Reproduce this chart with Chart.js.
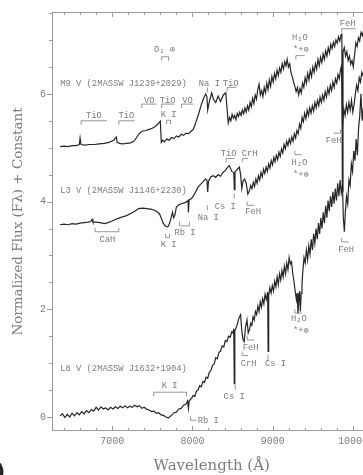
<!DOCTYPE html>
<html>
<head>
<meta charset="utf-8">
<script src="https://cdn.jsdelivr.net/npm/chart.js@4.4.1/dist/chart.umd.min.js"></script>
<style>
  html, body { margin: 0; padding: 0; background: #fff; overflow: hidden; }
  #wrap { position: relative; width: 373px; height: 475px; }
  #tag { position: absolute; left: -4px; top: 459px; font: bold 20px "DejaVu Sans", sans-serif; color: #222; }
</style>
</head>
<body>
<div id="wrap">
  <canvas id="spectra" width="373" height="475"></canvas>
  <span id="tag">)</span>
</div>
<script>
// M9 V (2MASSW J1239+2029)
const m9Wave = [
  6350, 6400, 6450, 6500, 6550, 6590, 6600, 6612, 6660, 6720,
  6780, 6840, 6900, 6960, 7020, 7050, 7062, 7090, 7130, 7180,
  7230, 7270, 7300, 7340, 7380, 7420, 7460, 7500, 7540, 7575,
  7600, 7612, 7630, 7650, 7680, 7710, 7740, 7770, 7800, 7830,
  7860, 7890, 7920, 7950, 7980, 8010, 8040, 8080, 8110, 8140,
  8165, 8180, 8190, 8210, 8240, 8262, 8290, 8320, 8350, 8385,
  8415, 8430, 8446, 8462, 8478, 8494, 8510, 8526, 8542, 8558,
  8574, 8590, 8606, 8622, 8638, 8654, 8670, 8686, 8702, 8718,
  8734, 8750, 8766, 8782, 8798, 8814, 8830, 8846, 8862, 8878,
  8894, 8910, 8926, 8942, 8958, 8974, 8990, 9006, 9022, 9038,
  9054, 9070, 9086, 9102, 9118, 9134, 9150, 9166, 9180, 9196,
  9212, 9228, 9244, 9260, 9276, 9292, 9308, 9324, 9340, 9356,
  9372, 9388, 9404, 9420, 9436, 9452, 9468, 9484, 9500, 9516,
  9532, 9548, 9564, 9580, 9596, 9612, 9628, 9644, 9660, 9676,
  9692, 9708, 9724, 9740, 9756, 9772, 9788, 9804, 9820, 9836,
  9852, 9862, 9868, 9876, 9892, 9908, 9924, 9940, 9956, 9972,
  9988, 10004, 10020, 10036, 10052, 10068, 10084, 10100, 10116, 10132
];
const m9Flux = [
  5.02, 5.03, 5.02, 5.04, 5.04, 5.06, 5.18, 5.06, 5.05, 5.06,
  5.06, 5.07, 5.08, 5.10, 5.14, 5.20, 5.10, 5.08, 5.07, 5.08,
  5.09, 5.12, 5.18, 5.27, 5.31, 5.32, 5.34, 5.36, 5.40, 5.45,
  5.49, 5.10, 5.14, 5.11, 5.16, 5.14, 5.19, 5.17, 5.22, 5.20,
  5.25, 5.23, 5.27, 5.26, 5.30, 5.34, 5.46, 5.64, 5.80, 5.92,
  6.00, 5.95, 5.70, 5.85, 6.02, 5.90, 5.84, 5.96, 5.86, 5.98,
  6.02, 5.75, 5.46, 5.56, 5.50, 5.62, 5.55, 5.60, 5.52, 5.64,
  5.58, 5.66, 5.60, 5.70, 5.63, 5.74, 5.66, 5.78, 5.70, 5.84,
  5.76, 5.92, 5.82, 5.98, 5.90, 6.08, 6.18, 5.98, 6.06, 5.95,
  6.12, 6.02, 6.20, 6.08, 6.26, 6.14, 6.32, 6.22, 6.38, 6.28,
  6.44, 6.34, 6.48, 6.40, 6.56, 6.46, 6.60, 6.52, 6.64, 6.50,
  6.56, 6.40, 6.32, 6.22, 6.14, 6.04, 6.12, 5.98, 6.10, 6.02,
  6.20, 6.12, 6.30, 6.20, 6.38, 6.26, 6.44, 6.32, 6.50, 6.40,
  6.56, 6.46, 6.64, 6.52, 6.68, 6.58, 6.74, 6.64, 6.80, 6.70,
  6.86, 6.76, 6.92, 6.84, 6.96, 6.88, 7.00, 6.94, 7.06, 6.98,
  7.10, 7.12, 4.20, 6.78, 6.86, 6.70, 6.78, 6.62, 6.70, 6.55,
  6.62, 6.50, 6.72, 6.95, 6.88, 7.04, 6.98, 7.14, 7.08, 7.18
];

// L3 V (2MASSW J1146+2230)
const l3Wave = [
  6350, 6400, 6450, 6500, 6550, 6600, 6650, 6700, 6735, 6749,
  6760, 6800, 6850, 6900, 6950, 7000, 7060, 7120, 7180, 7230,
  7280, 7330, 7380, 7430, 7480, 7530, 7560, 7590, 7615, 7635,
  7660, 7680, 7700, 7720, 7740, 7752, 7765, 7780, 7800, 7830,
  7860, 7890, 7920, 7945, 7950, 7958, 7985, 8010, 8040, 8070,
  8100, 8130, 8160, 8180, 8190, 8200, 8230, 8260, 8290, 8320,
  8350, 8380, 8410, 8440, 8460, 8490, 8515, 8522, 8530, 8560,
  8585, 8600, 8615, 8630, 8650, 8670, 8690, 8710, 8726, 8742,
  8758, 8774, 8790, 8806, 8822, 8838, 8854, 8870, 8886, 8902,
  8918, 8934, 8950, 8966, 8982, 8998, 9014, 9030, 9046, 9062,
  9078, 9094, 9110, 9126, 9142, 9158, 9174, 9190, 9206, 9222,
  9238, 9254, 9270, 9286, 9302, 9318, 9334, 9350, 9366, 9382,
  9398, 9414, 9430, 9446, 9462, 9478, 9494, 9510, 9526, 9542,
  9558, 9574, 9590, 9606, 9622, 9638, 9654, 9670, 9686, 9702,
  9718, 9734, 9750, 9766, 9782, 9798, 9814, 9830, 9846, 9858,
  9870, 9886, 9902, 9918, 9934, 9950, 9966, 9982, 9998, 10014,
  10030, 10046, 10062, 10078, 10094, 10110, 10126, 10142
];
const l3Flux = [
  3.57, 3.58, 3.57, 3.59, 3.58, 3.60, 3.61, 3.62, 3.63, 3.67,
  3.62, 3.62, 3.61, 3.59, 3.61, 3.64, 3.68, 3.71, 3.74, 3.78,
  3.82, 3.87, 3.88, 3.87, 3.86, 3.84, 3.81, 3.77, 3.68, 3.60,
  3.55, 3.53, 3.54, 3.62, 3.74, 3.80, 3.70, 3.74, 3.90, 3.94,
  3.96, 3.97, 3.99, 4.02, 3.80, 4.03, 4.05, 4.10, 4.18, 4.27,
  4.32, 4.36, 4.42, 4.40, 4.18, 4.38, 4.46, 4.48, 4.45, 4.50,
  4.47, 4.54, 4.58, 4.64, 4.67, 4.56, 4.54, 4.22, 4.55, 4.60,
  4.64, 4.50, 4.24, 4.38, 4.42, 4.34, 4.14, 4.20, 4.30, 4.24,
  4.36, 4.28, 4.42, 4.34, 4.48, 4.40, 4.54, 4.46, 4.60, 4.52,
  4.64, 4.56, 4.70, 4.62, 4.76, 4.68, 4.82, 4.74, 4.86, 4.78,
  4.92, 4.84, 4.98, 4.90, 5.06, 4.98, 5.12, 5.04, 5.16, 5.08,
  5.20, 5.12, 5.26, 5.18, 5.32, 5.26, 5.44, 5.36, 5.56, 5.48,
  5.64, 5.54, 5.70, 5.60, 5.74, 5.64, 5.78, 5.68, 5.84, 5.74,
  5.88, 5.78, 5.94, 5.84, 5.98, 5.88, 6.04, 5.94, 6.10, 6.00,
  6.16, 6.06, 6.22, 6.12, 6.28, 6.20, 6.36, 6.28, 6.46, 6.52,
  5.40, 5.72, 5.60, 5.80, 5.66, 5.84, 5.70, 5.88, 5.66, 5.80,
  6.00, 6.16, 6.06, 6.30, 6.22, 6.40, 6.34, 6.46
];

// L8 V (2MASSW J1632+1904)
const l8Wave = [
  6350, 6380, 6410, 6440, 6470, 6500, 6530, 6560, 6590, 6620,
  6650, 6680, 6710, 6740, 6770, 6800, 6830, 6860, 6890, 6920,
  6950, 6980, 7010, 7040, 7070, 7100, 7130, 7160, 7190, 7220,
  7250, 7280, 7310, 7340, 7370, 7400, 7430, 7460, 7490, 7520,
  7550, 7580, 7610, 7640, 7670, 7700, 7720, 7745, 7770, 7800,
  7830, 7860, 7890, 7920, 7940, 7950, 7960, 7990, 8010, 8030,
  8050, 8070, 8090, 8110, 8130, 8150, 8170, 8190, 8210, 8230,
  8250, 8270, 8290, 8310, 8330, 8350, 8370, 8390, 8410, 8430,
  8450, 8470, 8490, 8505, 8515, 8521, 8528, 8555, 8580, 8600,
  8615, 8630, 8645, 8660, 8680, 8695, 8710, 8725, 8740, 8755,
  8770, 8785, 8800, 8815, 8830, 8845, 8860, 8875, 8890, 8905,
  8920, 8937, 8943, 8950, 8965, 8980, 8995, 9010, 9025, 9040,
  9055, 9070, 9085, 9100, 9115, 9130, 9145, 9160, 9175, 9190,
  9205, 9220, 9235, 9250, 9265, 9280, 9295, 9305, 9315, 9325,
  9335, 9345, 9355, 9365, 9375, 9390, 9405, 9420, 9435, 9450,
  9465, 9480, 9495, 9510, 9525, 9540, 9555, 9570, 9585, 9600,
  9615, 9630, 9645, 9660, 9675, 9690, 9705, 9720, 9735, 9750,
  9765, 9780, 9795, 9810, 9825, 9840, 9855, 9870, 9880, 9893,
  9905, 9920, 9935, 9950, 9965, 9980, 9995, 10010, 10025, 10040,
  10055, 10070, 10085, 10100, 10115, 10130
];
const l8Flux = [
  0.02, 0.06, -0.01, 0.05, 0.00, 0.07, 0.02, 0.08, 0.04, 0.10,
  0.06, 0.12, 0.08, 0.14, 0.11, 0.18, 0.13, 0.19, 0.15, 0.17,
  0.13, 0.18, 0.15, 0.19, 0.16, 0.20, 0.17, 0.21, 0.17, 0.20,
  0.18, 0.22, 0.19, 0.21, 0.16, 0.18, 0.14, 0.13, 0.10, 0.11,
  0.07, 0.08, 0.04, 0.03, 0.00, -0.02, 0.01, 0.04, 0.08, 0.09,
  0.15, 0.16, 0.22, 0.24, 0.30, 0.16, 0.30, 0.35, 0.40, 0.38,
  0.48, 0.50, 0.58, 0.56, 0.66, 0.64, 0.74, 0.72, 0.83, 0.86,
  0.96, 0.98, 1.10, 1.08, 1.20, 1.22, 1.32, 1.30, 1.42, 1.40,
  1.50, 1.48, 1.58, 1.56, 1.64, 0.62, 1.60, 1.70, 1.84, 1.90,
  1.60, 1.44, 1.40, 1.66, 1.80, 1.56, 1.62, 1.74, 1.70, 1.86,
  1.80, 1.96, 1.90, 2.06, 1.96, 2.14, 2.04, 2.20, 2.10, 2.28,
  2.18, 2.32, 1.22, 2.26, 2.40, 2.30, 2.44, 2.34, 2.52, 2.42,
  2.60, 2.46, 2.66, 2.54, 2.72, 2.60, 2.80, 2.66, 2.86, 2.74,
  2.96, 2.84, 2.88, 2.66, 2.52, 2.34, 2.18, 2.30, 1.92, 2.16,
  2.34, 1.96, 2.30, 2.46, 2.70, 2.96, 2.86, 3.10, 2.92, 3.18,
  3.02, 3.30, 3.10, 3.40, 3.22, 3.50, 3.30, 3.60, 3.40, 3.70,
  3.50, 3.80, 3.60, 3.92, 3.70, 4.02, 3.82, 4.10, 3.90, 4.18,
  3.96, 4.24, 4.02, 4.34, 4.10, 4.40, 4.16, 4.30, 3.70, 3.44,
  3.80, 4.10, 3.96, 4.40, 4.30, 4.70, 4.56, 4.94, 4.76, 5.16,
  4.86, 5.36, 5.60, 6.00, 5.50, 5.74
];

const yTickLabels = [0, 2, 4, 6];
const xTickLabels = [7000, 8000, 9000, 10000];

// minor tick positions: every 200 A and every 0.5 in flux
const xTickValues = [];
for (let w = 6400; w <= 10200; w += 200) xTickValues.push(w);
const yTickValues = [];
for (let f = 0; f <= 7.5; f += 0.5) yTickValues.push(f);

// feature labels: [text, wavelength, flux, align]
const featureLabels = [
  ['M9 V (2MASSW J1239+2029)', 6352, 6.19, 'left'],
  ['O\u2082 \u2295', 7653, 6.82],
  ['Na I', 8211, 6.19],
  ['TiO', 8477, 6.19],
  ['VO', 7461, 5.88],
  ['TiO', 7690, 5.88],
  ['VO', 7938, 5.88],
  ['K I', 7703, 5.61],
  ['TiO', 6773, 5.59],
  ['TiO', 7176, 5.59],
  ['H\u2082O', 9338, 7.04],
  ['*+\u2295', 9351, 6.82],
  ['FeH', 9933, 7.30],
  ['L3 V (2MASSW J1146+2230)', 6352, 4.21, 'left'],
  ['TiO', 8452, 4.89],
  ['CrH', 8712, 4.89],
  ['H\u2082O', 9332, 4.72],
  ['*+\u2295', 9351, 4.50],
  ['Na I', 8198, 3.71],
  ['Cs I', 8409, 3.90],
  ['FeH', 8756, 3.81],
  ['CaH', 6941, 3.29],
  ['K I', 7703, 3.20],
  ['Rb I', 7907, 3.42],
  ['FeH', 9759, 5.13],
  ['L8 V (2MASSW J1632+1904)', 6352, 0.90, 'left'],
  ['K I', 7715, 0.59],
  ['Rb I', 8198, -0.07],
  ['Cs I', 8520, 0.37],
  ['CrH', 8700, 0.99],
  ['FeH', 8725, 1.29],
  ['Cs I', 9035, 0.99],
  ['H\u2082O', 9326, 1.82],
  ['*+\u2295', 9351, 1.60],
  ['FeH', 9914, 3.11]
];

// feature brackets: [from, to, flux, tick direction, ends]
const featureMarks = [
  [7616, 7703, 6.69, 'down', 'both'],
  [8186, 8186, 6.12, 'down'],
  [8434, 8545, 6.12, 'down', 'left'],
  [7369, 7554, 5.81, 'down', 'left'],
  [7616, 7777, 5.81, 'down', 'left'],
  [7864, 8012, 5.81, 'down', 'left'],
  [7678, 7727, 5.51, 'down', 'both'],
  [6612, 6934, 5.50, 'down', 'left'],
  [7083, 7281, 5.50, 'down', 'left'],
  [9289, 9400, 6.71, 'down', 'left'],
  [9859, 10032, 7.21, 'down', 'left'],
  [8421, 8520, 4.80, 'down', 'left'],
  [8620, 8694, 4.80, 'down', 'left'],
  [9276, 9363, 4.87, 'up', 'left'],
  [8186, 8186, 3.84, 'up'],
  [8520, 8520, 4.05, 'up'],
  [8681, 8768, 3.93, 'up', 'left'],
  [6786, 7083, 3.44, 'up', 'both'],
  [7666, 7715, 3.33, 'up', 'both'],
  [7839, 7963, 3.55, 'up', 'both'],
  [9760, 9846, 5.27, 'up', 'right'],
  [7517, 7926, 0.46, 'down', 'both'],
  [7975, 8050, -0.06, 'up', 'left'],
  [8533, 8533, 0.50, 'up'],
  [8620, 8694, 1.14, 'up', 'left'],
  [8681, 8768, 1.43, 'up', 'left'],
  [8942, 8942, 1.06, 'up'],
  [9276, 9363, 1.93, 'up', 'left'],
  [9859, 9945, 3.25, 'up', 'left']
];

const axisGray = '#9a9a9a';
const textGray = '#7c7c7c';
const lineColor = '#262626';

const toPoints = (wave, flux) => wave.map((w, i) => ({ x: w, y: flux[i] }));

const annotate = {
  id: 'annotate',
  afterDatasetsDraw(chart) {
    const { ctx, chartArea: a, scales: { x, y } } = chart;
    ctx.save();
    ctx.strokeStyle = axisGray;
    ctx.lineWidth = 1;
    ctx.strokeRect(a.left + 0.5, a.top + 0.5, a.right - a.left, a.bottom - a.top - 1);

    // inward ticks on wavelength axis, outward on flux axis
    ctx.beginPath();
    x.ticks.forEach(t => {
      const px = Math.round(x.getPixelForValue(t.value)) + 0.5;
      const len = xTickLabels.includes(t.value) ? 5 : 3;
      ctx.moveTo(px, a.bottom); ctx.lineTo(px, a.bottom - len);
      ctx.moveTo(px, a.top); ctx.lineTo(px, a.top + len);
    });
    y.ticks.forEach(t => {
      const py = Math.round(y.getPixelForValue(t.value)) + 0.5;
      const len = yTickLabels.includes(t.value) ? 5 : 3;
      ctx.moveTo(a.left, py); ctx.lineTo(a.left - len, py);
    });
    ctx.stroke();

    // feature brackets
    ctx.strokeStyle = textGray;
    ctx.lineWidth = 0.8;
    ctx.beginPath();
    featureMarks.forEach(([from, to, at, dir, ends]) => {
      const x1 = x.getPixelForValue(from);
      const x2 = x.getPixelForValue(to);
      const py = y.getPixelForValue(at);
      const t = dir === 'down' ? 4 : -4;
      if (from === to) {
        ctx.moveTo(x1, py); ctx.lineTo(x1, py + t * 1.3);
        return;
      }
      if (ends !== 'right') { ctx.moveTo(x1, py + t); ctx.lineTo(x1, py); }
      else ctx.moveTo(x1, py);
      ctx.lineTo(x2, py);
      if (ends !== 'left') ctx.lineTo(x2, py + t);
    });
    ctx.stroke();

    // feature labels
    ctx.fillStyle = textGray;
    ctx.font = '8.8px "Liberation Mono", monospace';
    ctx.textBaseline = 'middle';
    featureLabels.forEach(([text, w, f, align]) => {
      ctx.textAlign = align || 'center';
      ctx.fillText(text, x.getPixelForValue(w), y.getPixelForValue(f));
    });
    ctx.restore();
  }
};

new Chart(document.getElementById('spectra'), {
  type: 'scatter',
  data: {
    datasets: [
      { label: 'M9 V', data: toPoints(m9Wave, m9Flux) },
      { label: 'L3 V', data: toPoints(l3Wave, l3Flux) },
      { label: 'L8 V', data: toPoints(l8Wave, l8Flux) }
    ].map(d => ({ ...d, showLine: true, borderColor: lineColor, borderWidth: 1.2, pointRadius: 0 }))
  },
  options: {
    responsive: false,
    animation: false,
    devicePixelRatio: 1,
    layout: { padding: { top: 8, right: 0, bottom: 0, left: 0 } },
    plugins: { legend: { display: false }, tooltip: { enabled: false } },
    scales: {
      x: {
        type: 'linear',
        min: 6250,
        max: 10230,
        afterFit: s => { s.height = 44; },
        afterBuildTicks: s => { s.ticks = xTickValues.map(v => ({ value: v })); },
        grid: { display: false, drawTicks: false },
        border: { display: false },
        ticks: {
          autoSkip: false,
          maxRotation: 0,
          padding: 4,
          color: textGray,
          font: { family: 'Liberation Mono', size: 10 },
          callback: v => xTickLabels.includes(v) ? String(v) : ''
        },
        title: {
          display: true,
          text: 'Wavelength (\u00c5)',
          color: textGray,
          font: { family: 'DejaVu Serif', size: 15 },
          padding: { top: 0, bottom: 0 }
        }
      },
      y: {
        min: -0.26,
        max: 7.52,
        afterFit: s => { s.width = 52; },
        afterBuildTicks: s => { s.ticks = yTickValues.map(v => ({ value: v })); },
        grid: { display: false, drawTicks: false },
        border: { display: false },
        ticks: {
          autoSkip: false,
          padding: 6,
          color: textGray,
          font: { family: 'Liberation Mono', size: 10 },
          callback: v => yTickLabels.includes(v) ? String(v) : ''
        },
        title: {
          display: true,
          text: 'Normalized Flux (F\u03bb) + Constant',
          color: textGray,
          font: { family: 'DejaVu Serif', size: 13.5 },
          padding: { top: 10, bottom: 0 }
        }
      }
    }
  },
  plugins: [annotate]
});
</script>
</body>
</html>
